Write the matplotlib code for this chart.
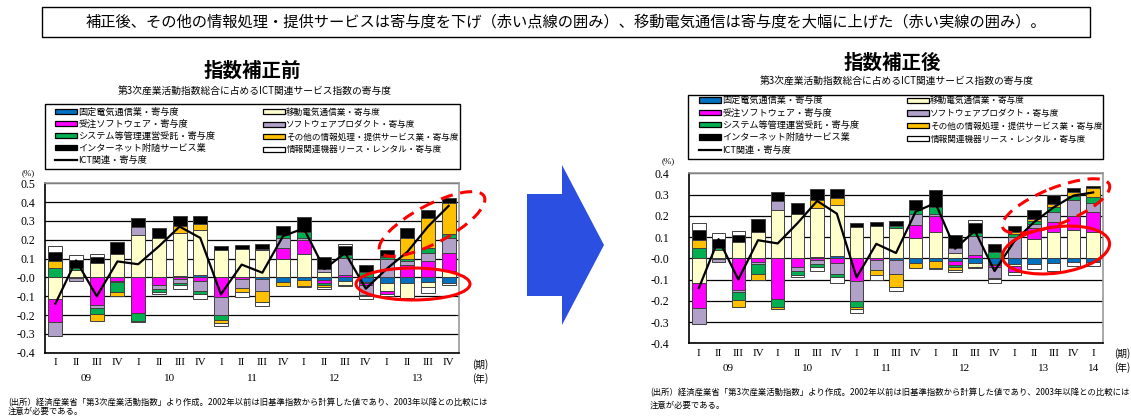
import matplotlib
matplotlib.use('Agg')
import matplotlib.pyplot as plt
from matplotlib.patches import Patch, Ellipse, Polygon, Rectangle
from matplotlib.lines import Line2D
import numpy as np

plt.rcParams['font.family'] = ['Noto Sans CJK JP', 'DejaVu Sans']

# ---- data (contribution, %) ----
quarters_pre = ['I', 'II', 'III', 'IV'] * 5
years_pre = ['09', '10', '11', '12', '13']
quarters_post = ['I', 'II', 'III', 'IV'] * 5 + ['I']
years_post = ['09', '10', '11', '12', '13', '14']

fixed_pre = [0, 0, 0, 0, 0, 0, 0.008, 0.012, 0, 0, -0.01, -0.023, -0.015, -0.014, -0.02, -0.025, -0.032, -0.032, -0.025, -0.03]
mobile_pre = [-0.115, 0.04, 0.078, 0.124, 0.225, 0.21, 0.23, 0.239, 0.145, 0.15, 0.143, 0.097, 0.122, 0.027, -0.02, -0.005, -0.04, -0.08, -0.025, 0.035]
ordersw_pre = [-0.12, -0.005, -0.147, -0.018, -0.191, -0.04, -0.008, -0.02, -0.106, -0.01, 0, 0.06, 0.075, -0.018, 0.014, -0.012, -0.015, 0.065, 0.085, 0.095]
swprod_pre = [-0.075, -0.012, -0.013, -0.008, 0.044, -0.02, -0.02, -0.053, -0.094, -0.045, -0.063, 0.053, 0.01, 0.02, 0.089, -0.05, 0.1, 0.02, 0.045, 0.08]
system_pre = [0.05, 0.008, -0.036, -0.05, -0.039, -0.02, -0.012, -0.017, -0.027, 0, 0.01, 0.015, 0.035, -0.008, 0.015, 0.03, 0.008, 0.015, 0.025, 0.02]
other_pre = [0.035, 0, -0.034, -0.024, -0.007, 0, 0.035, 0.032, -0.013, -0.025, -0.06, -0.021, -0.03, -0.013, -0.005, -0.005, 0.007, 0.11, 0.16, 0.165]
internet_pre = [0.05, 0.045, 0.032, 0.062, 0.044, 0.05, 0.053, 0.043, 0.023, 0.022, 0.024, 0.049, 0.08, 0.063, 0.048, 0.035, 0.03, 0.05, 0.045, 0.028]
lease_pre = [0.03, 0.025, 0.017, 0, 0, -0.01, -0.02, -0.025, -0.017, -0.023, -0.019, 0, -0.005, -0.01, 0.012, -0.018, -0.012, -0.005, -0.035, -0.01]
ict_pre = [-0.14, 0.09, -0.1, 0.085, 0.07, 0.165, 0.27, 0.21, -0.09, 0.068, 0.025, 0.22, 0.26, 0.045, 0.13, -0.06, 0.045, 0.135, 0.27, 0.38]

fixed_post = [0, 0, 0, 0, 0, 0, 0.008, 0.012, 0, 0, -0.01, -0.023, -0.015, -0.014, -0.02, -0.025, -0.027, -0.027, -0.02, -0.019, -0.019]
mobile_post = [-0.115, 0.04, 0.078, 0.124, 0.225, 0.21, 0.23, 0.239, 0.145, 0.15, 0.143, 0.097, 0.122, 0.027, -0.02, -0.005, -0.01, 0.09, 0.122, 0.133, 0.125]
ordersw_post = [-0.12, -0.005, -0.147, -0.018, -0.191, -0.04, -0.008, -0.02, -0.106, -0.01, 0, 0.06, 0.075, -0.018, 0.014, -0.012, -0.028, 0.054, 0.048, 0.067, 0.091]
swprod_post = [-0.075, -0.012, -0.013, -0.008, 0.044, -0.02, -0.02, -0.053, -0.094, -0.045, -0.063, 0.053, 0.01, 0.02, 0.089, -0.05, 0.1, 0.016, 0.05, 0.075, 0.046]
system_post = [0.05, 0.008, -0.036, -0.05, -0.039, -0.02, -0.012, -0.017, -0.027, 0, 0.01, 0.015, 0.035, -0.008, 0.015, 0.03, 0.015, 0.016, 0.023, 0.018, 0.028]
other_post = [0.035, 0, -0.034, -0.024, -0.007, 0, 0.035, 0.032, -0.013, -0.025, -0.06, -0.021, -0.03, -0.013, -0.005, -0.005, 0.01, 0.008, 0.011, 0.021, 0.043]
internet_post = [0.05, 0.045, 0.032, 0.062, 0.044, 0.05, 0.053, 0.043, 0.023, 0.022, 0.024, 0.049, 0.08, 0.063, 0.048, 0.035, 0.028, 0.043, 0.046, 0.016, 0.009]
lease_post = [0.03, 0.025, 0.017, 0, 0, -0.01, -0.02, -0.025, -0.017, -0.023, -0.019, 0, -0.005, -0.01, 0.012, -0.018, -0.012, -0.023, -0.04, -0.017, -0.016]
ict_post = [-0.14, 0.09, -0.1, 0.085, 0.07, 0.165, 0.27, 0.21, -0.09, 0.068, 0.025, 0.22, 0.26, 0.045, 0.13, -0.06, 0.08, 0.17, 0.24, 0.295, 0.31]

names = ['固定電気通信業・寄与度', '移動電気通信業・寄与度', '受注ソフトウェア・寄与度',
         'ソフトウェアプロダクト・寄与度', 'システム等管理運営受託・寄与度',
         'その他の情報処理・提供サービス業・寄与度', 'インターネット附随サービス業',
         '情報関連機器リース・レンタル・寄与度']
ict_name = 'ICT関連・寄与度'
colors = ['#0070C0', '#FFFFCC', '#FF00FF', '#B1A0C7', '#00B050', '#FFC000', '#000000', '#FFFFFF']

W, H = 1131, 416
fig = plt.figure(figsize=(W / 100, H / 100), dpi=100)
serif = 'Liberation Serif'


def px_ax(x0, x1, ytop, ybot):
    return fig.add_axes([x0 / W, 1 - ybot / H, (x1 - x0) / W, (ybot - ytop) / H])


def panel(ax, series, ict, qlab, ylab, ylim, ypad):
    n = len(ict)
    x = np.arange(n)
    pos = np.zeros(n)
    neg = np.zeros(n)
    for vals, c in zip(series, colors):
        v = np.array(vals, dtype=float)
        bottom = np.where(v >= 0, pos, neg)
        m = v != 0
        ax.bar(x[m], v[m], 0.68, bottom=bottom[m], color=c, edgecolor='#404040',
               linewidth=0.7, zorder=3)
        pos += np.clip(v, 0, None)
        neg += np.clip(v, None, 0)
    ax.plot(x, ict, color='black', lw=1.6, zorder=4)
    ax.set_xlim(-0.5, n - 0.5)
    ax.set_ylim(*ylim)
    yt = np.round(np.arange(ylim[0], ylim[1] + 0.001, 0.1), 1)
    ax.set_yticks(yt)
    ax.set_yticklabels(['%.1f' % t for t in yt], fontfamily=serif, fontsize=8.5)
    ax.set_xticks(x)
    ax.set_xticklabels(qlab, fontfamily=serif, fontsize=8)
    ax.tick_params(length=0)
    ax.tick_params(axis='y', pad=ypad)
    ax.tick_params(axis='x', pad=4)
    ax.grid(axis='y', color='black', lw=0.9)
    ax.set_axisbelow(True)
    for s in ['left', 'bottom']:
        ax.spines[s].set_color('black')
        ax.spines[s].set_linewidth(1.2)
    for s in ['top', 'right']:
        ax.spines[s].set_color('#999999')
        ax.spines[s].set_linewidth(1.2)
    for j, y in enumerate(ylab):
        xp = 4 * j + 1.5 if j < 5 else 4 * j
        ax.annotate(y, xy=(xp, 0), xycoords=('data', 'axes fraction'),
                    xytext=(0, -18.5), textcoords='offset points',
                    ha='center', va='center', fontfamily=serif, fontsize=8)


def legends(ax, xl, ytop, pitch):
    h = [Patch(facecolor=c, edgecolor='black', lw=0.9) for c in colors]
    hl = Line2D([], [], color='black', lw=1.6)
    col1 = [h[0], h[2], h[4], h[6], hl]
    lab1 = [names[0], names[2], names[4], names[6], ict_name]
    col2 = [h[1], h[3], h[5], h[7]]
    lab2 = [names[1], names[3], names[5], names[7]]

    def kw(fs):
        fpx = fs * 100 / 72
        return dict(loc='upper left', bbox_transform=fig.transFigure, frameon=False,
                    fontsize=fs, handlelength=22 / fpx, handleheight=0.55,
                    handletextpad=0.15, labelspacing=(pitch - 1.05 * fpx) / fpx,
                    borderpad=0, borderaxespad=0)
    l1 = ax.legend(col1, lab1, bbox_to_anchor=(xl / W, 1 - ytop / H), **kw(6.6))
    ax.add_artist(l1)
    ax.legend(col2, lab2, bbox_to_anchor=((xl + 208) / W, 1 - (ytop + 0.3) / H), **kw(6.2))


ax1 = px_ax(45, 459, 183.3, 352.7)
panel(ax1, [fixed_pre, mobile_pre, ordersw_pre, swprod_pre, system_pre, other_pre,
            internet_pre, lease_pre], ict_pre, quarters_pre, years_pre, (-0.4, 0.5), 7)
legends(ax1, 55, 107.5, 12.5)

ax2 = px_ax(689, 1103, 173.3, 343.3)
panel(ax2, [fixed_post, mobile_post, ordersw_post, swprod_post, system_post, other_post,
            internet_post, lease_post], ict_post, quarters_post, years_post, (-0.4, 0.4), 14)
legends(ax2, 699, 96, 12.8)

# ---- overlay in pixel coordinates ----
ov = fig.add_axes([0, 0, 1, 1])
ov.set_xlim(0, W)
ov.set_ylim(H, 0)
ov.axis('off')
ov.patch.set_alpha(0)

ov.add_patch(Rectangle((42, 7), 1048, 30, fill=False, edgecolor='black', lw=1))
ov.text(566, 22, '補正後、その他の情報処理・提供サービスは寄与度を下げ（赤い点線の囲み）、移動電気通信は寄与度を大幅に上げた（赤い実線の囲み）。',
        ha='center', va='center', fontsize=11)

ov.text(252, 71, '指数補正前', ha='center', va='center', fontsize=14, fontweight='bold')
ov.text(255, 90.5, '第3次産業活動指数総合に占めるICT関連サービス指数の寄与度', ha='center', va='center', fontsize=7)
ov.text(892, 63, '指数補正後', ha='center', va='center', fontsize=14, fontweight='bold')
ov.text(897, 80.5, '第3次産業活動指数総合に占めるICT関連サービス指数の寄与度', ha='center', va='center', fontsize=7)

ov.add_patch(Rectangle((45, 104), 415, 65, fill=False, edgecolor='black', lw=1))
ov.add_patch(Rectangle((688, 95), 415, 64, fill=False, edgecolor='black', lw=1))

ov.text(28, 173, '(%)', ha='center', va='center', fontsize=6.5, fontfamily=serif)
ov.text(668, 161, '(%)', ha='center', va='center', fontsize=6.5, fontfamily=serif)
ov.text(480, 365, '(期)', ha='center', va='center', fontsize=7)
ov.text(480, 379, '(年)', ha='center', va='center', fontsize=7)
ov.text(1122, 354, '(期)', ha='center', va='center', fontsize=7)
ov.text(1122, 368, '(年)', ha='center', va='center', fontsize=7)

foot1 = '(出所）経済産業省「第3次産業活動指数」より作成。2002年以前は旧基準指数から計算した値であり、2003年以降との比較には'
foot2 = '注意が必要である。'
ov.text(8, 403, foot1, ha='left', va='center', fontsize=6)
ov.text(8, 411, foot2, ha='left', va='center', fontsize=6)
ov.text(650, 393, foot1, ha='left', va='center', fontsize=6)
ov.text(650, 405, foot2, ha='left', va='center', fontsize=6)

# arrow
ov.add_patch(Polygon([(527, 194), (562, 194), (562, 165), (604, 245), (562, 325),
                      (562, 296), (527, 296)], closed=True, facecolor='#2b4fe0', edgecolor='none'))

# red ellipses
red = '#FF0000'
ov.add_patch(Ellipse((413, 284), 114, 32, angle=0, fill=False, edgecolor=red, lw=2.2))
ov.add_patch(Ellipse((432, 224), 118, 38, angle=-28, fill=False, edgecolor=red, lw=2.2,
                     linestyle=(0, (4, 2.5))))
ov.add_patch(Ellipse((1056, 250), 108, 46, angle=-8, fill=False, edgecolor=red, lw=2.2))
ov.add_patch(Ellipse((1056, 206), 115, 36, angle=-22, fill=False, edgecolor=red, lw=2.2,
                     linestyle=(0, (4, 2.5))))

fig.savefig('out.png', dpi=100)
